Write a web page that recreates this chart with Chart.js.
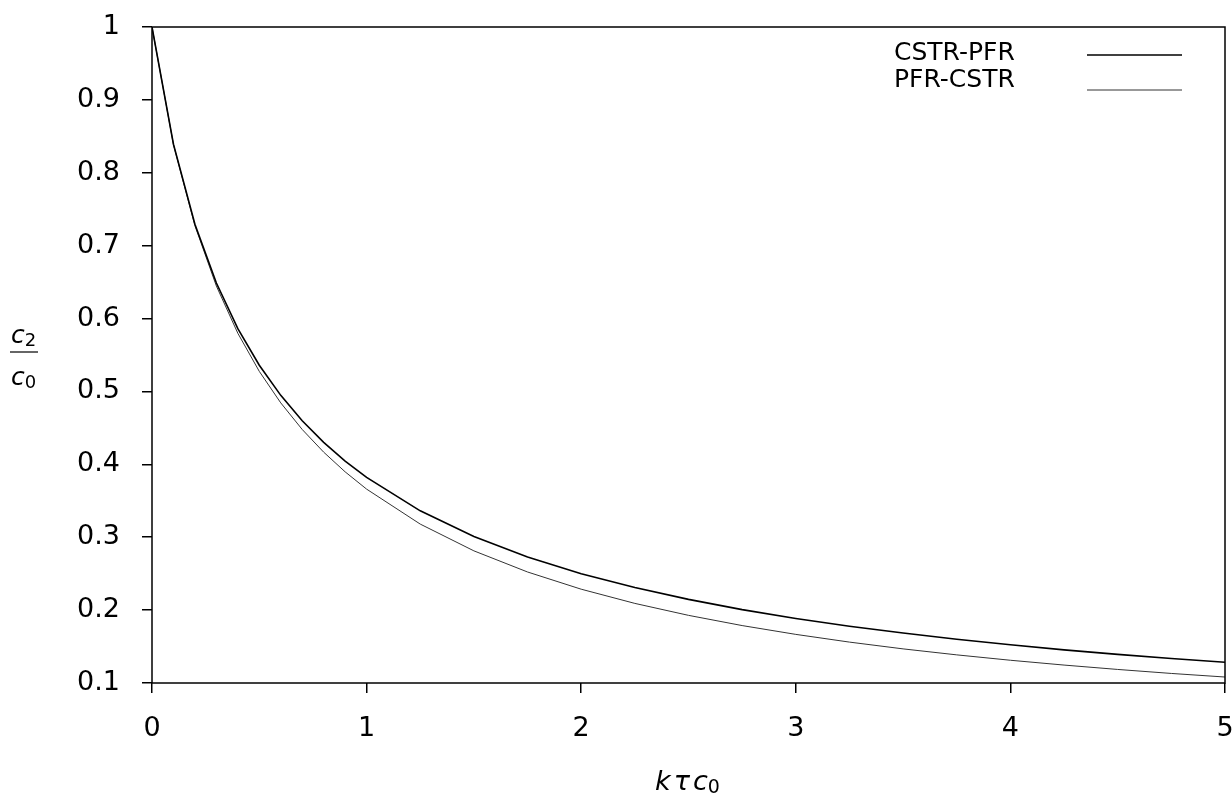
<!DOCTYPE html>
<html>
<head>
<meta charset="utf-8">
<script src="https://cdn.jsdelivr.net/npm/chart.js@4"></script>
<style>
    html, body { margin: 0; padding: 0; background: #fff; }
    #grafico { display: block; }
</style>
</head>
<body>
<canvas id="grafico" width="1232" height="794"></canvas>
<script>
// k·tau·c0 values where the conversions were evaluated
const ktc0 = [0, 0.1, 0.2, 0.3, 0.4, 0.5, 0.6, 0.7, 0.8, 0.9, 1.0,
    1.25, 1.5, 1.75, 2.0, 2.25, 2.5, 2.75, 3.0, 3.25, 3.5, 3.75, 4.0, 4.25, 4.5, 4.75, 5.0];

// c2/c0 leaving the second reactor
const cstrPfr = [1, 0.8392, 0.7295, 0.6487, 0.5861, 0.5359, 0.4946, 0.4598, 0.4302, 0.4045, 0.3820,
    0.3362, 0.3009, 0.2729, 0.2500, 0.2309, 0.2147, 0.2007, 0.1886, 0.1779, 0.1685, 0.1600, 0.1524, 0.1455, 0.1393, 0.1336, 0.1284];
const pfrCstr = [1, 0.8387, 0.7275, 0.6446, 0.5798, 0.5275, 0.4843, 0.4478, 0.4167, 0.3897, 0.3660,
    0.3180, 0.2813, 0.2523, 0.2287, 0.2092, 0.1928, 0.1788, 0.1667, 0.1561, 0.1468, 0.1386, 0.1312, 0.1246, 0.1186, 0.1131, 0.1082];

const seriesNames = ["CSTR-PFR", "PFR-CSTR"];
const xTicks = [0, 1, 2, 3, 4, 5];
const yTicks = [0.1, 0.2, 0.3, 0.4, 0.5, 0.6, 0.7, 0.8, 0.9, 1];

const FONTE = "'DejaVu Sans', sans-serif";

function pontos(valores) {
    return ktc0.map((x, i) => ({ x: x, y: valores[i] }));
}

// moldura, legenda com a linha à direita do texto e títulos dos eixos
const extras = {
    id: 'extras',
    afterDraw(chart) {
        const ctx = chart.ctx;
        const area = chart.chartArea;
        ctx.save();

        ctx.strokeStyle = '#000';
        ctx.lineWidth = 1.5;
        ctx.strokeRect(area.left, area.top, area.right - area.left, area.bottom - area.top);

        ctx.font = '25px ' + FONTE;
        ctx.fillStyle = '#000';
        ctx.textBaseline = 'middle';
        ctx.textAlign = 'left';
        const linhasY = [55, 90];
        const textoY = [53, 80];
        chart.data.datasets.forEach((ds, i) => {
            ctx.fillText(ds.label, 894, textoY[i]);
            ctx.strokeStyle = ds.borderColor;
            ctx.lineWidth = ds.borderWidth;
            ctx.beginPath();
            ctx.moveTo(1087, linhasY[i]);
            ctx.lineTo(1182, linhasY[i]);
            ctx.stroke();
        });

        // c2 / c0
        ctx.fillStyle = '#000';
        ctx.textBaseline = 'alphabetic';
        ctx.font = 'italic 25px ' + FONTE;
        ctx.fillText('c', 11, 343);
        ctx.fillText('c', 11, 385);
        const wc = ctx.measureText('c').width;
        ctx.font = '18px ' + FONTE;
        ctx.fillText('2', 11 + wc, 346);
        ctx.fillText('0', 11 + wc, 388);
        ctx.strokeStyle = '#000';
        ctx.lineWidth = 1.2;
        ctx.beginPath();
        ctx.moveTo(10, 352);
        ctx.lineTo(38, 352);
        ctx.stroke();

        // k tau c0
        ctx.font = 'italic 27px ' + FONTE;
        const partes = ['k', '\u03C4', 'c'];
        let x = 655;
        partes.forEach(p => {
            ctx.fillText(p, x, 790);
            x += ctx.measureText(p).width + 3;
        });
        ctx.font = '19px ' + FONTE;
        ctx.fillText('0', x - 3, 793);

        ctx.restore();
    }
};

const ctx = document.getElementById('grafico').getContext('2d');

new Chart(ctx, {
    type: 'line',
    data: {
        datasets: [
            {
                label: seriesNames[0],
                data: pontos(cstrPfr),
                borderColor: '#000',
                borderWidth: 1.6,
                pointRadius: 0,
                tension: 0,
                fill: false
            },
            {
                label: seriesNames[1],
                data: pontos(pfrCstr),
                borderColor: '#333',
                borderWidth: 1,
                pointRadius: 0,
                tension: 0,
                fill: false
            }
        ]
    },
    options: {
        responsive: false,
        animation: false,
        layout: { padding: { top: 27, right: 7, left: 0, bottom: 0 } },
        plugins: {
            legend: { display: false },
            tooltip: { enabled: false }
        },
        scales: {
            x: {
                type: 'linear',
                min: 0,
                max: 5,
                afterBuildTicks: (eixo) => { eixo.ticks = xTicks.map(v => ({ value: v })); },
                afterFit: (eixo) => {
                    eixo.height = 111;
                    eixo.paddingLeft = 0;
                    eixo.paddingRight = 0;
                },
                grid: { drawOnChartArea: false, drawTicks: true, tickLength: 10, color: '#000', lineWidth: 1.5 },
                border: { display: false },
                ticks: {
                    color: '#000',
                    font: { family: FONTE, size: 27 },
                    padding: 20,
                    maxRotation: 0,
                    callback: (v) => String(v)
                }
            },
            y: {
                type: 'linear',
                min: 0.1,
                max: 1,
                afterBuildTicks: (eixo) => { eixo.ticks = yTicks.map(v => ({ value: v })); },
                afterFit: (eixo) => {
                    eixo.width = 152;
                    eixo.paddingTop = 0;
                    eixo.paddingBottom = 0;
                },
                grid: { drawOnChartArea: false, drawTicks: true, tickLength: 10, color: '#000', lineWidth: 1.5 },
                border: { display: false },
                ticks: {
                    color: '#000',
                    font: { family: FONTE, size: 27 },
                    padding: 22,
                    callback: (v) => String(+v.toFixed(1))
                }
            }
        }
    },
    plugins: [extras]
});
</script>
</body>
</html>
